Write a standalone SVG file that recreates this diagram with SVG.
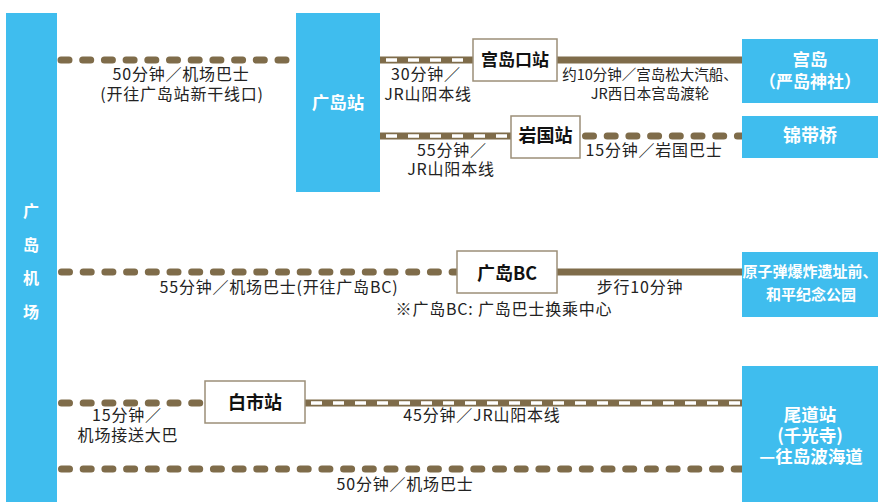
<svg xmlns="http://www.w3.org/2000/svg" width="878" height="502" viewBox="0 0 878 502">
<style>
.bg{fill:#ffffff}
.blue{fill:#3fbdee}
.sta{fill:#ffffff;stroke:#9c8f78;stroke-width:1.5}
.dash{fill:none;stroke:#7f6c4a;stroke-width:7;stroke-linecap:round;stroke-dasharray:8 13.7}
.solid{fill:none;stroke:#7f6c4a;stroke-width:7}
.railw{fill:none;stroke:#ffffff;stroke-width:3.5;stroke-dasharray:11 11}
.lbl{font-family:"Noto Sans CJK SC","Noto Sans",sans-serif;font-size:16px;fill:#222;text-anchor:middle;letter-spacing:0.8px}
.ferry{font-family:"Noto Sans CJK SC","Noto Sans",sans-serif;font-size:14.5px;fill:#222;text-anchor:middle}
.st{font-family:"Noto Sans CJK SC","Noto Sans",sans-serif;font-weight:bold;fill:#111;text-anchor:middle}
.wt{font-family:"Noto Sans CJK SC","Noto Sans",sans-serif;font-weight:bold;fill:#ffffff;text-anchor:middle}
</style>
<rect class="bg" x="0" y="0" width="878" height="502"/>
<g id="connectors">
  <line class="dash" x1="61" y1="60" x2="296" y2="60"/>
  <line class="solid" x1="380" y1="60" x2="473" y2="60"/>
  <line class="railw" x1="386" y1="60" x2="473" y2="60"/>
  <line class="solid" x1="557" y1="60" x2="742" y2="60"/>
  <line class="solid" x1="380" y1="136" x2="511" y2="136"/>
  <line class="railw" x1="386" y1="136" x2="511" y2="136"/>
  <line class="dash" x1="585.5" y1="136" x2="742" y2="136"/>
  <line class="dash" x1="61.5" y1="272" x2="457" y2="272"/>
  <line class="solid" x1="557" y1="272" x2="742" y2="272"/>
  <line class="dash" x1="61.5" y1="403" x2="205" y2="403"/>
  <line class="solid" x1="305" y1="403" x2="742" y2="403"/>
  <line class="railw" x1="311" y1="403" x2="742" y2="403"/>
  <line class="dash" x1="61.5" y1="469" x2="742" y2="469"/>
  <text class="lbl" x="181" y="80">50分钟／机场巴士</text>
  <text class="lbl" x="182" y="100">(开往广岛站新干线口)</text>
  <text class="lbl" x="426" y="80">30分钟／</text>
  <text class="lbl" x="428" y="100">JR山阳本线</text>
  <text class="ferry" x="650" y="80">约10分钟／宫岛松大汽船、</text>
  <text class="ferry" x="650" y="99">JR西日本宫岛渡轮</text>
  <text class="lbl" x="452" y="156">55分钟／</text>
  <text class="lbl" x="451" y="175">JR山阳本线</text>
  <text class="lbl" x="654" y="156">15分钟／岩国巴士</text>
  <text class="lbl" x="279" y="293">55分钟／机场巴士(开往广岛BC)</text>
  <text class="lbl" x="504" y="315">※广岛BC: 广岛巴士换乘中心</text>
  <text class="lbl" x="640" y="293">步行10分钟</text>
  <text class="lbl" x="127" y="421">15分钟／</text>
  <text class="lbl" x="128" y="441">机场接送大巴</text>
  <text class="lbl" x="482" y="421">45分钟／JR山阳本线</text>
  <text class="lbl" x="405" y="490">50分钟／机场巴士</text>
</g>
<g id="airport">
  <rect class="blue" x="6" y="13" width="51" height="489"/>
  <text class="wt" font-size="16" x="31" y="217">广</text>
  <text class="wt" font-size="16" x="31" y="251">岛</text>
  <text class="wt" font-size="16" x="31" y="284">机</text>
  <text class="wt" font-size="16" x="31" y="318">场</text>
</g>
<g id="hiroshima-station">
  <rect class="blue" x="296" y="13" width="84" height="179"/>
  <text class="wt" font-size="17.5" x="338" y="109">广岛站</text>
</g>
<g id="miyajimaguchi">
  <rect class="sta" x="473" y="39" width="84" height="42"/>
  <text class="st" font-size="17" x="515" y="66">宫岛口站</text>
</g>
<g id="iwakuni">
  <rect class="sta" x="511" y="116" width="69" height="42"/>
  <text class="st" font-size="18" x="545.5" y="142">岩国站</text>
</g>
<g id="hiroshima-bc">
  <rect class="sta" x="457" y="251" width="100" height="42"/>
  <text class="st" font-size="18" x="507" y="280">广岛BC</text>
</g>
<g id="shiichi">
  <rect class="sta" x="205" y="381" width="100" height="42"/>
  <text class="st" font-size="18" x="255" y="409">白市站</text>
</g>
<g id="miyajima">
  <rect class="blue" x="742" y="39" width="136" height="64"/>
  <text class="wt" font-size="17.5" x="810" y="66">宫岛</text>
  <text class="wt" font-size="17" x="810" y="88">（严岛神社）</text>
</g>
<g id="kintaikyo">
  <rect class="blue" x="742" y="116" width="136" height="42"/>
  <text class="wt" font-size="18" x="810" y="142">锦带桥</text>
</g>
<g id="peace-park">
  <rect class="blue" x="742" y="252" width="136" height="65"/>
  <text class="wt" font-size="15" x="810" y="277">原子弹爆炸遗址前、</text>
  <text class="wt" font-size="15" x="811" y="300">和平纪念公园</text>
</g>
<g id="onomichi">
  <rect class="blue" x="742" y="366" width="136" height="136"/>
  <text class="wt" font-size="17.5" x="810" y="421">尾道站</text>
  <text class="wt" font-size="17.5" x="810" y="442">(千光寺)</text>
  <text class="wt" font-size="17.5" x="811" y="463">—往岛波海道</text>
</g>
</svg>
